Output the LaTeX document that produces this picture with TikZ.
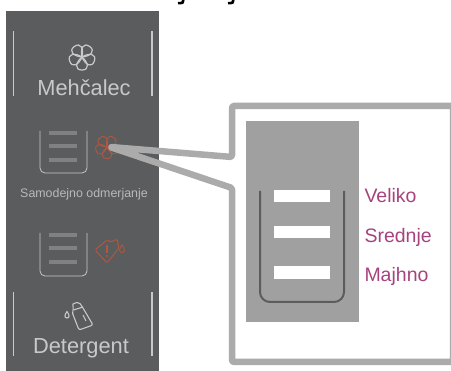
\documentclass[tikz,border=0pt]{standalone}
\usepackage{fontspec}
\setmainfont{Liberation Sans}
\usetikzlibrary{positioning}
\definecolor{paneldark}{HTML}{5B5C5E}
\definecolor{panelgray}{HTML}{A0A0A1}
\definecolor{framegray}{HTML}{ABABAC}
\definecolor{iconlight}{HTML}{C9C9C9}
\definecolor{icongray}{HTML}{808183}
\definecolor{iconred}{HTML}{B0573F}
\definecolor{levelpurple}{HTML}{A6437E}
\tikzstyle{sidebar} = [draw=iconlight, line width=1.6pt]
\tikzstyle{cup} = [draw=iconlight, line width=0.8pt, rounded corners=5pt]
\tikzstyle{cupbar} = [draw=icongray, line width=4pt]
\tikzstyle{levelbar} = [fill=white, draw=none]
\tikzstyle{bigtitle} = [anchor=base, inner sep=0pt, text=iconlight, font=\fontsize{21.8}{24}\selectfont]
\tikzstyle{smalltitle} = [anchor=base, inner sep=0pt, text=iconlight!85!paneldark, font=\fontsize{12.4}{14}\selectfont]
\tikzstyle{levellabel} = [inner sep=0pt, text=levelpurple, text width=70pt, align=left, text height=14pt, text depth=4pt, font=\fontsize{19.5}{22}\selectfont]
\tikzset{
  flower/.pic={
    \foreach \a in {270,342,54,126,198}
      \draw[pic actions, rotate=\a] (0,0) .. controls (.42,.5) and (1,.6) .. (1,0) .. controls (1,-.6) and (.42,-.5) .. (0,0);
  },
  droplet/.pic={
    \draw[pic actions] (0,-4) .. controls (-3.4,0) and (-3,3.5) .. (0,3.5) .. controls (3,3.5) and (3.4,0) .. (0,-4) -- cycle;
  }
}
\begin{document}
\begin{tikzpicture}[x=1pt, y=-1pt, node distance=39.5pt]
\useasboundingbox (0,0) rectangle (451,371);
\fill[paneldark] (6,11) rectangle (159,371);

% clipped title
\draw[line width=2.6pt] (183.5,0) .. controls (183,3) .. (178,3.2);
\draw[line width=2.6pt] (233.5,0) .. controls (233,3) .. (228,3.2);

% softener
\draw[sidebar] (13.5,31) -- (13.5,96);
\draw[sidebar] (152,31) -- (152,96);
\pic[draw=iconlight, line width=1.2pt, scale=13] at (82,57) {flower};
\node (softener) [bigtitle] at (84,96) {Mehčalec};

% automatic dosing
\draw[cup] (40,131) -- (40,173) -- (87,173) -- (87,131);
\draw[cupbar] (49,133) -- (77,133);
\draw[cupbar] (49,146) -- (77,146);
\draw[cupbar] (49,160) -- (77,160);
\pic[draw=iconred, line width=0.9pt, scale=11.5] at (107,147) {flower};
\node (dosing) [smalltitle] at (84,198) {Samodejno odmerjanje};

% low level
\draw[cup] (40,233) -- (40,276) -- (87,276) -- (87,233);
\draw[cupbar] (49,235) -- (77,235);
\draw[cupbar] (49,248) -- (77,248);
\draw[cupbar] (49,262) -- (77,262);
\draw[draw=iconred, line width=1pt, rounded corners=1.5pt] (95,250) -- (107,240) -- (111,242) -- (117,239) -- (119,248) -- (107,263) -- cycle;
\draw[draw=iconred, line width=1.8pt] (107,245) -- (107,253);
\fill[iconred] (107,256) circle (1.1);
\pic[draw=iconred, line width=0.9pt, scale=1] at (122,249) {droplet};

% detergent
\draw[sidebar] (13.5,292) -- (13.5,356);
\draw[sidebar] (152,292) -- (152,356);
\draw[draw=iconlight, line width=1.1pt, rounded corners=2pt] (72,304) -- (79,302) -- (83,308) -- (93,325) -- (79,330) -- (72,312) -- (74,308) -- cycle;
\draw[draw=iconlight, line width=1.1pt] (73.5,310) -- (83,307);
\draw[draw=iconlight, line width=1.1pt] (83,315) -- (86,321);
\pic[draw=iconlight, line width=1.1pt, scale=.85] at (67,315) {droplet};
\node (detergent) [bigtitle] at (81,354) {Detergent};

% callout
\coordinate (tip) at (110,147);
\coordinate (notchtop) at (232,157);
\coordinate (notchbottom) at (232,188);
\draw[draw=framegray, line width=6.5pt, line join=round, rounded corners=1.5pt] (tip) -- (notchtop) -- (232,106) -- (453,106) -- (453,362) -- (232,362) -- (notchbottom) -- cycle;

\fill[panelgray] (246,121) rectangle (359,322);
\draw[draw=paneldark, line width=2pt, rounded corners=10pt] (260,191) -- (260,302) -- (344,302) -- (344,191);
\fill[levelbar] (274,190) rectangle (330,202);
\fill[levelbar] (274,226) rectangle (330,238);
\fill[levelbar] (274,266) rectangle (330,279);

\node (large) [levellabel] at (399.5,198) {Veliko};
\node (medium) [levellabel, below of=large] {Srednje};
\node (small) [levellabel, below of=medium] {Majhno};
\end{tikzpicture}
\end{document}
